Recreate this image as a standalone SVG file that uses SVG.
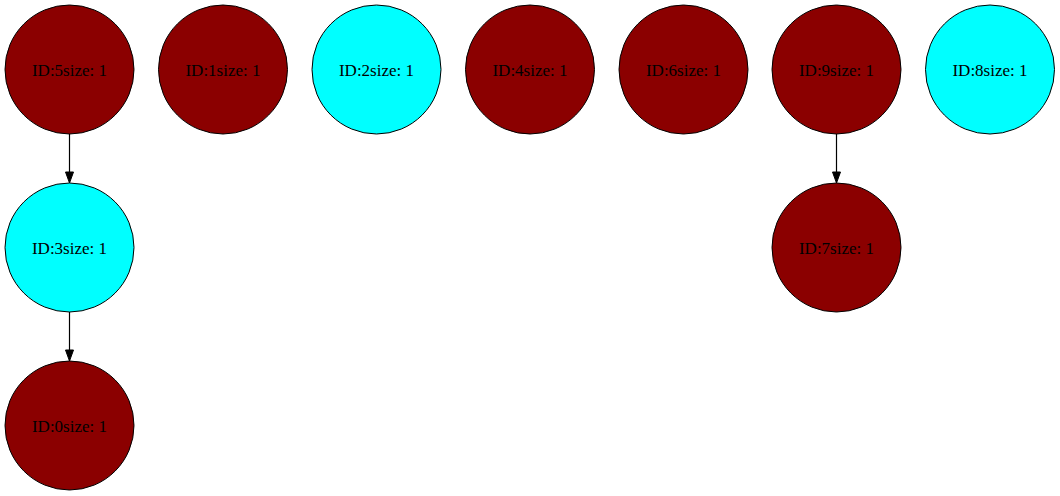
<svg xmlns="http://www.w3.org/2000/svg" width="1060" height="496" viewBox="0 0 1060 496">
<style>
.n circle{stroke:#000;stroke-width:1}
.r circle{fill:#8b0000}
.c circle{fill:#00ffff}
.n text{font-family:"Liberation Serif","Times New Roman",serif;font-size:17px;text-anchor:middle;fill:#000}
.e{stroke:#000;stroke-width:1.2;fill:none}
.h{fill:#000;stroke:#000}
</style>
<rect width="1060" height="496" fill="#fff"/>
<g id="edges">
<line class="e" x1="69.5" y1="134" x2="69.5" y2="172"/>
<polygon class="h" points="65.5,172 73.5,172 69.5,183"/>
<line class="e" x1="69.5" y1="312" x2="69.5" y2="350"/>
<polygon class="h" points="65.5,350 73.5,350 69.5,361"/>
<line class="e" x1="836.5" y1="134" x2="836.5" y2="172"/>
<polygon class="h" points="832.5,172 840.5,172 836.5,183"/>
</g>
<g id="node5" class="n r"><circle cx="69.5" cy="69.5" r="64.5"/><text x="69.5" y="75.5">ID:5size: 1</text></g>
<g id="node1" class="n r"><circle cx="223" cy="69.5" r="64.5"/><text x="223" y="75.5">ID:1size: 1</text></g>
<g id="node2" class="n c"><circle cx="376.5" cy="69.5" r="64.5"/><text x="376.5" y="75.5">ID:2size: 1</text></g>
<g id="node4" class="n r"><circle cx="530" cy="69.5" r="64.5"/><text x="530" y="75.5">ID:4size: 1</text></g>
<g id="node6" class="n r"><circle cx="683.5" cy="69.5" r="64.5"/><text x="683.5" y="75.5">ID:6size: 1</text></g>
<g id="node9" class="n r"><circle cx="836.5" cy="69.5" r="64.5"/><text x="836.5" y="75.5">ID:9size: 1</text></g>
<g id="node8" class="n c"><circle cx="990" cy="69.5" r="64.5"/><text x="990" y="75.5">ID:8size: 1</text></g>
<g id="node3" class="n c"><circle cx="69.5" cy="247.5" r="64.5"/><text x="69.5" y="253.5">ID:3size: 1</text></g>
<g id="node7" class="n r"><circle cx="836.5" cy="247.5" r="64.5"/><text x="836.5" y="253.5">ID:7size: 1</text></g>
<g id="node0" class="n r"><circle cx="69.5" cy="425.5" r="64.5"/><text x="69.5" y="431.5">ID:0size: 1</text></g>
</svg>
